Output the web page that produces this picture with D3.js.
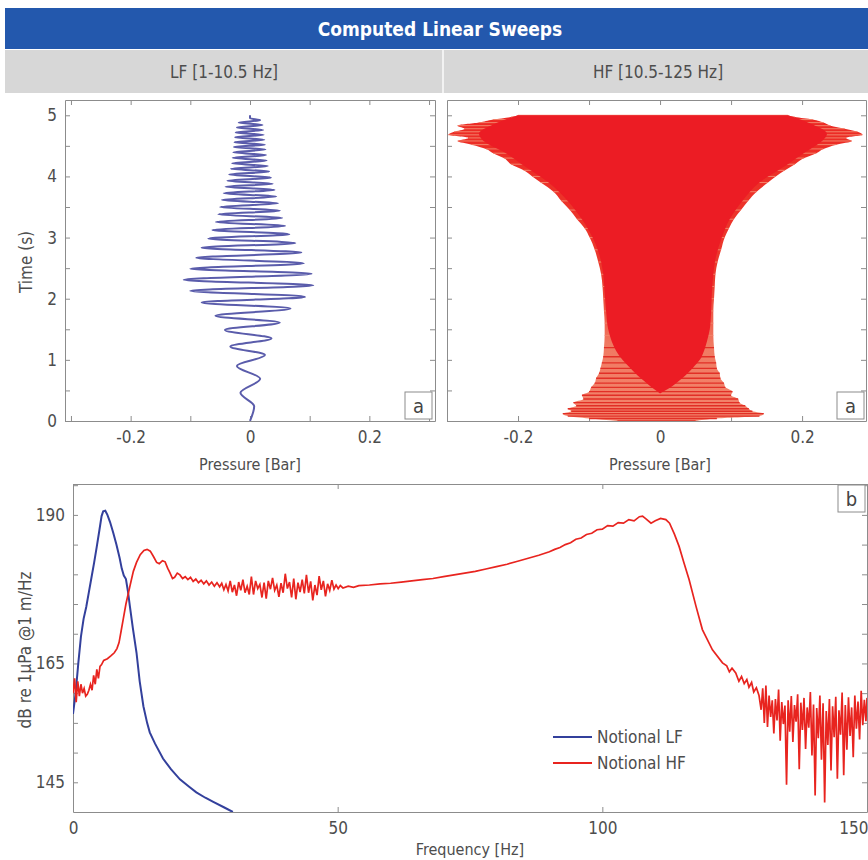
<!DOCTYPE html>
<html>
<head>
<meta charset="utf-8">
<script src="https://cdnjs.cloudflare.com/ajax/libs/d3/7.8.5/d3.min.js"></script>
<style>
body { margin: 0; background: #fff; }
svg text { font-family: "DejaVu Sans Condensed", "Liberation Sans Narrow", sans-serif; fill: #4d4d4d; }
</style>
</head>
<body>
<div id="chart"></div>
<script>
// titles
var title = "Computed Linear Sweeps";
var subTitles = ["LF [1-10.5 Hz]", "HF [10.5-125 Hz]"];
var legendNames = ["Notional LF", "Notional HF"];

// LF sweep: time (s) and pressure (bar) of each turning point of the trace
var lfTime = [0, 0.24, 0.46, 0.69, 0.90, 1.08, 1.22, 1.35, 1.49, 1.61, 1.72, 1.84, 1.94, 2.03, 2.13, 2.22, 2.31, 2.41, 2.49, 2.58,
    2.67, 2.755, 2.835, 2.91, 2.985, 3.055, 3.125, 3.19, 3.255, 3.32, 3.38, 3.44, 3.50, 3.56, 3.615, 3.67, 3.725, 3.78, 3.83, 3.88,
    3.93, 3.98, 4.03, 4.08, 4.125, 4.17, 4.215, 4.26, 4.305, 4.35, 4.395, 4.44, 4.48, 4.52, 4.56, 4.60, 4.64, 4.68, 4.72, 4.76,
    4.80, 4.84, 4.88, 4.92, 4.95, 5.0];
var lfPressure = [0, 0.007, -0.016, 0.017, -0.022, 0.025, -0.033, 0.036, -0.042, 0.05, -0.058, 0.068, -0.081, 0.092, -0.10, 0.106, -0.111, 0.103, -0.10, 0.09,
    -0.09, 0.086, -0.081, 0.076, -0.07, 0.066, -0.063, 0.059, -0.057, 0.054, -0.053, 0.05, -0.05, 0.047, -0.047, 0.044, -0.044, 0.041, -0.041, 0.038,
    -0.038, 0.035, -0.035, 0.032, -0.032, 0.03, -0.03, 0.028, -0.029, 0.027, -0.028, 0.026, -0.027, 0.025, -0.026, 0.024, -0.025, 0.023, -0.024, 0.022,
    -0.022, 0.021, -0.019, 0.017, 0, 0];

// HF sweep: outer envelope (time, left, right) and the solid core
var hfTime = [0.00, 0.04, 0.08, 0.12, 0.16, 0.20, 0.25, 0.30, 0.36, 0.42, 0.48, 0.55, 0.62, 0.70, 0.78, 0.86, 0.95, 1.05, 1.2, 1.4,
    1.6, 1.8, 2.0, 2.2, 2.4, 2.6, 2.8, 3.0, 3.15, 3.3, 3.45, 3.6, 3.75, 3.9, 4.0, 4.1, 4.2, 4.3, 4.38, 4.45,
    4.52, 4.58, 4.63, 4.68, 4.73, 4.78, 4.83, 4.88, 4.93, 4.97, 5.0];
var hfLeft = [-0.06, -0.10, -0.13, -0.137, -0.125, -0.13, -0.118, -0.122, -0.108, -0.11, -0.10, -0.097, -0.092, -0.09, -0.086, -0.084, -0.082, -0.08, -0.079, -0.078,
    -0.078, -0.079, -0.08, -0.081, -0.083, -0.087, -0.092, -0.099, -0.106, -0.117, -0.127, -0.139, -0.15, -0.168, -0.18, -0.192, -0.21, -0.22, -0.235, -0.245,
    -0.265, -0.285, -0.27, -0.298, -0.29, -0.275, -0.285, -0.255, -0.235, -0.21, -0.2];
var hfRight = [0.05, 0.08, 0.14, 0.146, 0.13, 0.125, 0.12, 0.112, 0.11, 0.10, 0.102, 0.092, 0.09, 0.085, 0.084, 0.08, 0.079, 0.077, 0.076, 0.075,
    0.075, 0.075, 0.076, 0.077, 0.078, 0.081, 0.086, 0.091, 0.097, 0.104, 0.114, 0.124, 0.136, 0.152, 0.163, 0.176, 0.19, 0.203, 0.22, 0.23,
    0.248, 0.27, 0.262, 0.285, 0.278, 0.26, 0.24, 0.23, 0.215, 0.19, 0.18];
var coreTime = [0.45, 0.55, 0.65, 0.75, 0.88, 1.0, 1.15, 1.3, 1.5, 1.8, 2.1, 2.4, 2.7, 3.0, 3.3, 3.6, 3.9, 4.2, 4.4, 4.55, 4.7, 4.85, 5.0];
var coreLeft = [0, -0.012, -0.022, -0.032, -0.043, -0.053, -0.062, -0.068, -0.073, -0.076, -0.078, -0.08, -0.085, -0.095, -0.11, -0.13, -0.157, -0.195, -0.22, -0.245, -0.255, -0.235, -0.2];
var coreRight = [0, 0.015, 0.026, 0.036, 0.047, 0.056, 0.062, 0.066, 0.07, 0.072, 0.073, 0.075, 0.079, 0.087, 0.098, 0.116, 0.14, 0.18, 0.205, 0.225, 0.235, 0.215, 0.18];

// spectra: [frequency Hz, dB]
var lfSpectrum = [[0, 156.5], [0.5, 160], [1, 165], [1.5, 169.5], [2, 172.5], [2.5, 174.5], [3, 177], [3.5, 179.5], [4, 182], [4.5, 184.7],
    [5, 187.5], [5.4, 189.8], [5.7, 190.6], [6.1, 190.7], [6.5, 190], [7, 188.8], [7.6, 187], [8.2, 185], [8.8, 182.8], [9.2, 181],
    [9.6, 179.8], [10, 179.2], [10.4, 177], [10.75, 174.6], [11.3, 171], [12, 166.8], [12.6, 162], [13.3, 157.8], [14, 155], [14.5, 153.4],
    [15.5, 151.5], [17, 149], [18.5, 147.2], [20.2, 145.5], [22, 144.2], [23.3, 143.3], [25, 142.4], [26.5, 141.7], [28.5, 140.8], [30.2, 140]];
var hfSpectrum = [[0, 160], [0.3, 162.5], [0.6, 158.5], [0.9, 162], [1.2, 159.5], [1.5, 161.5], [1.8, 160], [2.1, 160.8], [2.4, 159.5], [2.7, 159.8],
    [3.0, 160.5], [3.3, 161.5], [3.6, 160.5], [3.9, 163], [4.2, 161.5], [4.5, 164], [4.8, 162.5], [5.1, 164.5], [5.4, 164.8], [5.8, 165.5],
    [6.5, 165.8], [7.2, 166.3], [7.8, 166.8], [8.3, 167.5], [8.7, 168.5], [9.1, 170.5], [9.5, 172.5], [10.0, 175], [10.75, 178], [11.4, 180.5],
    [12, 182], [12.7, 183.3], [13.4, 184], [14, 184.2], [14.6, 183.9], [15.2, 183], [15.8, 182], [16.3, 181.8], [16.9, 182.3], [17.4, 182.1],
    [17.9, 181], [18.3, 180.3], [18.8, 179.3], [19.2, 179.5], [19.7, 180.2], [20.2, 179.9], [20.7, 179.3], [21.2, 179.6], [21.7, 179.1], [22.2, 179.5],
    [22.7, 178.8], [23.2, 179.2], [23.7, 178.6], [24.2, 179.0], [24.7, 178.4], [25.2, 178.9], [25.7, 178.2], [26.2, 178.7], [26.7, 178.0], [27.2, 178.6],
    [27.7, 177.9], [28.1, 178.5], [28.5, 177.4], [28.9, 178.3], [29.3, 177.2], [29.7, 178.9], [30.1, 177.0], [30.5, 178.2], [30.9, 176.4], [31.3, 178.7],
    [31.7, 177.3], [32.1, 179.1], [32.5, 176.9], [32.9, 178.0], [33.3, 176.6], [33.7, 179.6], [34.1, 176.6], [34.5, 178.9], [34.9, 177.6], [35.3, 178.3],
    [35.7, 176.1], [36.1, 178.6], [36.5, 175.9], [36.9, 178.9], [37.3, 177.5], [37.7, 179.4], [38.1, 177.3], [38.5, 178.2], [38.9, 176.2], [39.3, 178.5],
    [39.7, 176.9], [40.1, 180.1], [40.5, 177.6], [40.9, 178.7], [41.3, 176.1], [41.7, 179.3], [42.1, 175.8], [42.5, 178.6], [42.9, 177.0], [43.3, 179.1],
    [43.7, 176.8], [44.1, 179.9], [44.5, 176.9], [44.9, 178.8], [45.3, 175.6], [45.7, 178.2], [46.1, 176.5], [46.5, 179.7], [46.9, 177.4], [47.3, 178.9],
    [47.7, 176.3], [48.1, 178.4], [48.5, 177.3], [48.9, 179.0], [49.3, 177.5], [49.7, 178.2], [50.1, 177.6], [50.5, 178.1], [51, 177.7], [52, 178.0],
    [53, 177.8], [54, 178.1], [56, 178.2], [58, 178.4], [60, 178.5], [62, 178.7], [64, 178.9], [66, 179.1], [68, 179.3], [70, 179.6],
    [72, 179.9], [74, 180.2], [76, 180.5], [78, 180.9], [80, 181.3], [82, 181.7], [84, 182.2], [86, 182.7], [88, 183.2], [90, 183.8],
    [91, 184.2], [92, 184.5], [93, 185.0], [94, 185.3], [95, 185.9], [96, 186.1], [97, 186.7], [98, 186.9], [99, 187.5], [100, 187.6],
    [101, 188.2], [102, 188.1], [103, 188.7], [104, 188.6], [105, 189.2], [106, 189.0], [107, 189.7], [107.6, 189.8], [108.3, 189.3], [109.2, 188.6],
    [110, 189.0], [111, 189.4], [112, 189.2], [112.7, 188.6], [113.6, 186.8], [114.5, 184.7], [115.4, 182], [116.4, 179.1], [117.7, 174.6], [118.9, 170.7],
    [120.8, 167.3], [122.7, 165.1], [123.5, 164.6], [124, 163.6], [124.5, 164.2], [125.2, 163.4], [125.8, 162.0], [126.3, 162.8], [126.8, 161.6], [127.3, 162.3],
    [127.7, 161.0], [128.2, 161.8], [128.6, 160.2], [129.1, 160.9], [129.6, 159.6], [130.0, 157.2], [130.3, 160.8], [130.6, 155.0], [130.9, 161.3], [131.2, 154.3],
    [131.5, 159.6], [131.8, 156.0], [132.1, 158.8], [132.4, 153.2], [132.7, 159.0], [133.0, 155.4], [133.3, 160.6], [133.6, 152.0], [133.9, 158.5], [134.2, 154.8],
    [134.5, 157.9], [134.8, 144.6], [135.1, 158.8], [135.4, 153.5], [135.7, 159.5], [136.0, 151.8], [136.3, 158.0], [136.6, 155.2], [136.9, 159.8], [137.2, 147.2],
    [137.5, 158.4], [137.8, 153.8], [138.1, 159.2], [138.4, 150.6], [138.7, 157.6], [139.0, 154.2], [139.3, 160.2], [139.6, 149.5], [139.9, 158.1], [140.2, 142.8],
    [140.5, 157.5], [140.8, 152.4], [141.1, 159.6], [141.4, 148.8], [141.7, 158.3], [142.0, 141.6], [142.3, 157.0], [142.6, 151.3], [142.9, 159.0], [143.2, 147.0],
    [143.5, 157.8], [143.8, 152.6], [144.1, 159.4], [144.4, 145.6], [144.7, 157.1], [145.0, 153.0], [145.3, 160.1], [145.6, 146.2], [145.9, 158.0], [146.2, 150.5],
    [146.5, 159.3], [146.8, 152.8], [147.1, 157.6], [147.4, 149.2], [147.7, 159.6], [148.0, 154.0], [148.3, 158.6], [148.6, 152.2], [148.9, 160.4], [149.2, 154.6],
    [149.5, 158.9], [149.8, 155.3], [150, 159.2]];

// ticks
var pressureTicks = [-0.3, -0.2, -0.1, 0, 0.1, 0.2, 0.3];
var pressureLabels = [-0.2, 0, 0.2];
var timeTicks = [0, 0.5, 1, 1.5, 2, 2.5, 3, 3.5, 4, 4.5, 5];
var timeLabels = [0, 1, 2, 3, 4, 5];
var freqTicks = [0, 50, 100, 150];
var dbTicks = [145, 150, 155, 160, 165, 170, 175, 180, 185, 190, 195];
var dbLabels = [145, 165, 190];

var lfColor = "#5a5cab", specBlue = "#33409c", red = "#e8241f";
var frameColor = "#8c8c8c";

var svg = d3.select("#chart").append("svg")
    .attr("width", 868)
    .attr("height", 860);

// gradient for the hf trace: pale streaks at the start, solid red later
var grad = svg.append("defs").append("linearGradient")
    .attr("id", "hfGrad").attr("x1", 0).attr("x2", 0).attr("y1", 1).attr("y2", 0);
grad.append("stop").attr("offset", "0%").attr("stop-color", "#f3856d");
grad.append("stop").attr("offset", "25%").attr("stop-color", "#f07a62");
grad.append("stop").attr("offset", "45%").attr("stop-color", "#ec3a2e");
grad.append("stop").attr("offset", "100%").attr("stop-color", "#ec2a24");

// header bands
svg.append("rect").attr("x", 5).attr("y", 8).attr("width", 863).attr("height", 41).attr("fill", "#2358ad");
svg.append("text").attr("x", 440).attr("y", 36).attr("text-anchor", "middle")
    .style("fill", "#fff").style("font-size", "19px").style("font-weight", "bold").text(title);
svg.append("rect").attr("x", 5).attr("y", 50).attr("width", 863).attr("height", 43).attr("fill", "#d7d7d7");
svg.append("line").attr("x1", 443).attr("x2", 443).attr("y1", 50).attr("y2", 93).attr("stroke", "#f2f2f2").attr("stroke-width", 2);
svg.append("text").attr("x", 224).attr("y", 78).attr("text-anchor", "middle").style("font-size", "17px").text(subTitles[0]);
svg.append("text").attr("x", 658).attr("y", 78).attr("text-anchor", "middle").style("font-size", "17px").text(subTitles[1]);

// draw a matlab style box with inward ticks on all four sides
function drawFrame(x, y, xTicks, xLabels, yTicks, yLabels, id) {
    var fx = labels => d => labels.indexOf(d) >= 0 ? String(d) : "";
    var x0 = x.range()[0], x1 = x.range()[1], y0 = y.range()[0], y1 = y.range()[1];

    svg.append("g")
        .attr("transform", `translate(0,${y0})`)
        .call(d3.axisBottom(x).tickValues(xTicks).tickSize(-5).tickSizeOuter(0).tickPadding(10).tickFormat(fx(xLabels)))
        .style("color", frameColor).style("font-size", "17px")
        // keep the right most label inside the page
        .call(g => g.selectAll(".tick text").filter(d => x(d) > 850).attr("text-anchor", "end").attr("x", 868 - x1));
    svg.append("g")
        .attr("transform", `translate(0,${y1})`)
        .call(d3.axisTop(x).tickValues(xTicks).tickSize(-5).tickSizeOuter(0).tickFormat(""))
        .style("color", frameColor);
    svg.append("g")
        .attr("transform", `translate(${x0},0)`)
        .call(d3.axisLeft(y).tickValues(yTicks).tickSize(-5).tickSizeOuter(0).tickPadding(8).tickFormat(fx(yLabels)))
        .style("color", frameColor).style("font-size", "17px");
    svg.append("g")
        .attr("transform", `translate(${x1},0)`)
        .call(d3.axisRight(y).tickValues(yTicks).tickSize(-5).tickSizeOuter(0).tickFormat(""))
        .style("color", frameColor);

    svg.append("clipPath").attr("id", id)
        .append("rect").attr("x", x0).attr("y", y1).attr("width", x1 - x0).attr("height", y0 - y1);
}

function panelTag(x, y, letter) {
    svg.append("rect").attr("x", x).attr("y", y).attr("width", 27).attr("height", 27)
        .attr("fill", "#fff").attr("stroke", frameColor);
    svg.append("text").attr("x", x + 13.5).attr("y", y + 21).attr("text-anchor", "middle")
        .style("font-size", "20px").style("fill", "#444").text(letter);
}

// ---- panel a, LF ----
var xL = d3.scaleLinear().domain([-0.31, 0.31]).range([65, 435]);
var yL = d3.scaleLinear().domain([0, 5.25]).range([421, 100]);
drawFrame(xL, yL, pressureTicks.filter(d => d > -0.31 && d < 0.31), pressureLabels, timeTicks, timeLabels, "clipL");

var lfLine = d3.line()
    .curve(d3.curveMonotoneY)
    .x((d, i) => xL(lfPressure[i]))
    .y((d, i) => yL(lfTime[i]));
svg.append("path")
    .datum(lfTime)
    .attr("d", lfLine)
    .attr("fill", "none")
    .attr("stroke", lfColor)
    .attr("stroke-width", 2)
    .attr("clip-path", "url(#clipL)");
panelTag(405, 392, "a");

svg.append("text").attr("x", 250).attr("y", 470).attr("text-anchor", "middle").style("font-size", "16px").text("Pressure [Bar]");
svg.append("text").attr("transform", "translate(32,262) rotate(-90)").attr("text-anchor", "middle").style("font-size", "17px").text("Time (s)");

// ---- panel a, HF ----
var xH = d3.scaleLinear().domain([-0.3, 0.29]).range([447, 866]);
var yH = d3.scaleLinear().domain([0, 5.25]).range([421, 100]);
drawFrame(xH, yH, pressureTicks.filter(d => d > -0.3 && d < 0.29), pressureLabels, timeTicks, [], "clipH");

var hfRows = d3.zip(hfTime, hfLeft, hfRight);
var coreRows = d3.zip(coreTime, coreLeft, coreRight);

var hfG = svg.append("g").attr("clip-path", "url(#clipH)");
hfG.append("path")
    .datum(hfRows)
    .attr("d", d3.area().curve(d3.curveMonotoneY).y(d => yH(d[0])).x0(d => xH(d[1])).x1(d => xH(d[2])))
    .attr("fill", "url(#hfGrad)");
// streaks: dark on the pale early part, pale on the red late part
hfG.selectAll("line.streak")
    .data(hfRows)
    .join("line")
    .attr("class", "streak")
    .attr("x1", d => xH(d[1]))
    .attr("x2", d => xH(d[2]))
    .attr("y1", d => yH(d[0]))
    .attr("y2", d => yH(d[0]))
    .attr("stroke", d => d[0] < 1.3 ? "#e22f26" : "#f3836b")
    .attr("stroke-width", d => d[0] < 1.3 ? 1.4 : 1);
hfG.append("path")
    .datum(coreRows)
    .attr("d", d3.area().curve(d3.curveMonotoneY).y(d => yH(d[0])).x0(d => xH(d[1])).x1(d => xH(d[2])))
    .attr("fill", "#ec1c24");
panelTag(837, 392, "a");

svg.append("text").attr("x", 660).attr("y", 470).attr("text-anchor", "middle").style("font-size", "16px").text("Pressure [Bar]");

// ---- panel b, spectra ----
var xF = d3.scaleLinear().domain([0, 150]).range([73, 867]);
var yF = d3.scaleLinear().domain([140, 195.2]).range([812, 484]);
drawFrame(xF, yF, freqTicks, freqTicks, dbTicks, dbLabels, "clipF");

var specLine = d3.line().x(d => xF(d[0])).y(d => yF(d[1]));
var specG = svg.append("g").attr("clip-path", "url(#clipF)");
specG.append("path").datum(lfSpectrum).attr("d", specLine)
    .attr("fill", "none").attr("stroke", specBlue).attr("stroke-width", 2);
specG.append("path").datum(hfSpectrum).attr("d", specLine)
    .attr("fill", "none").attr("stroke", red).attr("stroke-width", 1.7);
panelTag(838, 485, "b");

// legend
var legend = svg.append("g").attr("transform", "translate(553,737)");
legend.selectAll("line")
    .data(legendNames)
    .join("line")
    .attr("x1", 0).attr("x2", 39)
    .attr("y1", (d, i) => i * 26).attr("y2", (d, i) => i * 26)
    .attr("stroke", (d, i) => i ? red : specBlue)
    .attr("stroke-width", 2);
legend.selectAll("text")
    .data(legendNames)
    .join("text")
    .attr("x", 44)
    .attr("y", (d, i) => i * 26 + 6)
    .style("font-size", "17px")
    .text(d => d);

svg.append("text").attr("x", 470).attr("y", 855).attr("text-anchor", "middle").style("font-size", "16px").text("Frequency [Hz]");
svg.append("text").attr("transform", "translate(31,650) rotate(-90)").attr("text-anchor", "middle").style("font-size", "17px").text("dB re 1μPa @1 m/Hz");
</script>
</body>
</html>
